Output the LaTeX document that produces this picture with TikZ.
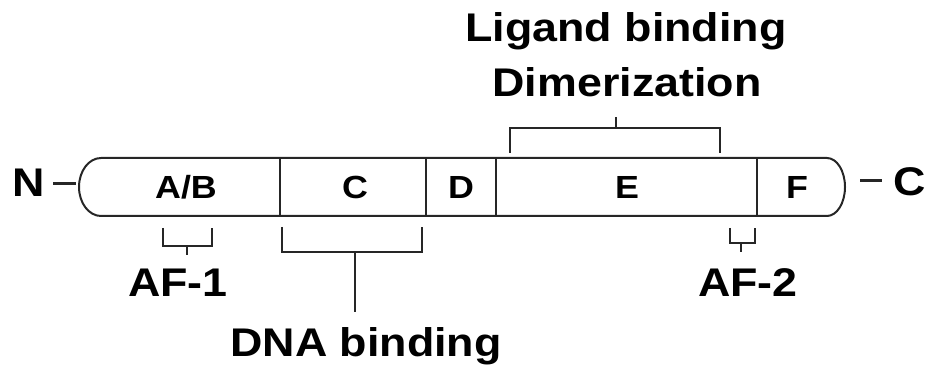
\documentclass[tikz,border=0pt]{standalone}
\usepackage{fontspec}
\setmainfont{Liberation Sans}[FakeStretch=1.12]
\begin{document}
\begin{tikzpicture}[x=1pt,y=1pt,
  big/.style={font=\bfseries\fontsize{40}{48}\selectfont, inner sep=0pt, anchor=base},
  seg/.style={font=\bfseries\fontsize{32}{38}\selectfont, inner sep=0pt, anchor=base},
  barline/.style={line width=2pt, draw=black!85},
  brk/.style={line width=2.4pt, draw=black!85},
  tie/.style={line width=3pt, draw=black!85}]
\useasboundingbox (0,0) rectangle (926,369);
% bar
\coordinate (TL) at (101,211);
\coordinate (TR) at (827,211);
\coordinate (BR) at (827,153);
\coordinate (BL) at (101,153);
\draw[barline] (TL) -- (TR) arc[start angle=90,end angle=-90,x radius=18,y radius=29]
  -- (BL) arc[start angle=270,end angle=90,x radius=22,y radius=29] -- cycle;
\coordinate (Lend) at (79,182);
\coordinate (Rend) at (845,182);
% dividers
\foreach \x/\n in {280/a,426/b,496/c,757/d}{
  \coordinate (\n t) at (\x,211);
  \coordinate (\n b) at (\x,153);
  \draw[barline] (\n t) -- (\n b);
}
% segment labels
\node[seg] (AB) at (186,170) {A/B};
\node[seg] (C)  at (355,170) {C};
\node[seg] (D)  at (461,170) {D};
\node[seg] (E)  at (627,170) {E};
\node[seg] (F)  at (797,170) {F};
% termini
\node[big] (N) at (28.5,172) {N};
\node[big] (Cterm) at (910,173) {C};
\coordinate (nd1) at (53,185);
\coordinate (nd2) at (76,185);
\coordinate (cd1) at (860,188);
\coordinate (cd2) at (882,188);
\draw[tie] (nd1) -- (nd2);
\draw[tie] (cd1) -- (cd2);
% AF-1 bracket
\node[big] (AF1) at (178,72) {AF-1};
\coordinate (a1l) at (163,141);
\coordinate (a1r) at (212,141);
\coordinate (a1m) at (187,114);
\draw[brk] (a1l) |- (a1m |- 0,123) -| (a1r);
\draw[brk] (a1m |- 0,123) -- (a1m);
% DNA binding bracket
\node[big] (DNA) at (366,12) {DNA binding};
\coordinate (d1l) at (282,142);
\coordinate (d1r) at (422,142);
\coordinate (d1m) at (355,57);
\draw[brk] (d1l) |- (d1m |- 0,117) -| (d1r);
\draw[brk] (d1m |- 0,117) -- (d1m);
% Ligand binding bracket
\node[big] (LIG) at (626,327) {Ligand binding};
\node[big] (DIM) at (627,272) {Dimerization};
\coordinate (l1l) at (510,216);
\coordinate (l1r) at (720,216);
\coordinate (l1m) at (616,252);
\draw[brk] (l1l) |- (l1m |- 0,241) -| (l1r);
\draw[brk] (l1m |- 0,241) -- (l1m);
% AF-2 bracket
\node[big] (AF2) at (748,72) {AF-2};
\coordinate (a2l) at (730,141);
\coordinate (a2r) at (755,141);
\coordinate (a2m) at (741,117);
\draw[brk] (a2l) |- (a2m |- 0,126) -| (a2r);
\draw[brk] (a2m |- 0,126) -- (a2m);
\end{tikzpicture}
\end{document}
